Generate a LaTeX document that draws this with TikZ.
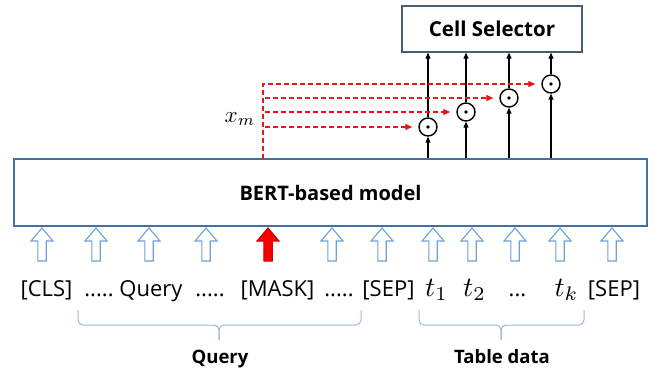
\documentclass[tikz,border=0pt]{standalone}
\usepackage{graphicx}
\usepackage{fontspec}
\setmainfont{Open Sans}
\usetikzlibrary{arrows.meta}
\definecolor{boxblue}{RGB}{65,113,156}
\definecolor{arrblue}{RGB}{112,160,214}
\definecolor{braceblue}{RGB}{150,185,222}
\definecolor{cellborder}{RGB}{70,95,115}
\definecolor{mred}{RGB}{235,20,20}
\newcommand{\bigmath}[2]{\scalebox{#1}{\normalsize$#2$}}
\tikzset{
  uparr/.pic={\draw[pic actions] (-4.2,0) -- (-4.2,-20) -- (-11,-20) -- (0,-33) -- (11,-20) -- (4.2,-20) -- (4.2,0) -- cycle;},
  hollow/.style={draw=arrblue, line width=1.1, fill=white},
  redarr/.style={draw=red!85!black, line width=1.1, fill=red},
  tok/.style={anchor=base, inner sep=0, font=\fontsize{22}{26}\selectfont},
  mtok/.style={anchor=base, inner sep=0},
  odot/.style={circle, draw, line width=1.4, minimum size=18, inner sep=0,
    path picture={\fill (path picture bounding box.center) circle (1.8);}},
  blk/.style={line width=1.1, -{Triangle[length=6,width=5]}},
  reddash/.style={draw=mred, line width=1.2, dash pattern=on 5 off 3, -{Triangle[length=7,width=6]}},
  bracel/.style={draw=braceblue, line width=1, rounded corners=5},
  lbl/.style={anchor=base, inner sep=0, font=\bfseries\fontsize{18.5}{22}\selectfont}
}
\begin{document}
\begin{tikzpicture}[x=1pt,y=-1pt]
\useasboundingbox (0,0) rectangle (659,369);
\fill[white] (0,0) rectangle (659,369);

% boxes
\node[draw=boxblue, line width=1.3, minimum width=633, minimum height=67, inner sep=0,
  font=\bfseries\fontsize{20}{24}\selectfont] (bert) at (330.5,192.5) {BERT-based model};
\node[draw=cellborder, line width=1.3, minimum width=180, minimum height=46, inner sep=0,
  font=\bfseries\fontsize{20.5}{24}\selectfont] (cell) at (492,29) {Cell Selector};

% odot circles
\node[odot] (c1) at (428,127) {};
\node[odot] (c2) at (466,112) {};
\node[odot] (c3) at (509,98) {};
\node[odot] (c4) at (551,84) {};

% black arrows
\foreach \c in {c1,c2,c3,c4}{
  \draw[blk] (\c |- bert.north) -- (\c.south);
  \draw[blk] (\c.north) -- (\c |- cell.south);
}

% red dashed
\coordinate (rs) at (263,159);
\coordinate (rt) at (263,84);
\draw[reddash] (rs) -- (rt) -- ([xshift=-6]c4.west);
\draw[reddash] ([xshift=2]rt |- c3) -- ([xshift=-6]c3.west);
\draw[reddash] ([xshift=2]rt |- c2) -- ([xshift=-6]c2.west);
\draw[reddash] ([xshift=2]rt |- c1) -- ([xshift=-6]c1.west);
\node (xm) at (240,119) {\bigmath{2.3}{x_m}};

% input arrows
\foreach \x in {42,96,149,206,332,382,433,472,515,560,612}{
  \pic[hollow] at (\x,261) {uparr};
}
\pic[redarr] at (268,261) {uparr};

% tokens
\node[tok] (cls) at (46.5,296) {[CLS]};
\node[tok] (d1) at (99,296) {.....};
\node[tok] (qw) at (151,296) {Query};
\node[tok] (d2) at (210,296) {.....};
\node[tok] (mask) at (277.5,296) {[MASK]};
\node[tok] (d3) at (339,296) {.....};
\node[tok] (sep1) at (388.5,296) {[SEP]};
\node[mtok] (t1) at (436.5,296) {\bigmath{2.8}{t_1}};
\node[mtok] (t2) at (474.5,296) {\bigmath{2.8}{t_2}};
\node[tok] (dd) at (517.5,296) {...};
\node[mtok] (tk) at (566.5,296) {\bigmath{2.8}{t_k}};
\node[tok] (sep2) at (614,296) {[SEP]};

% braces
\draw[bracel] (78,310) -- (78,325) -- (219,325) -- (219,340);
\draw[bracel] (361,310) -- (361,325) -- (219,325) -- (219,340);
\draw[bracel] (419,310) -- (419,325) -- (501,325) -- (501,340);
\draw[bracel] (584,310) -- (584,325) -- (501,325) -- (501,340);

\node[lbl] (ql) at (220,363) {Query};
\node[lbl] (tl) at (502,363) {Table data};
\end{tikzpicture}
\end{document}
